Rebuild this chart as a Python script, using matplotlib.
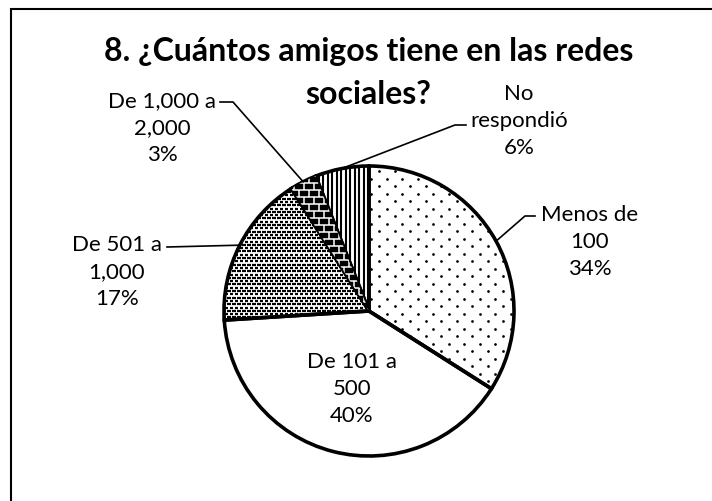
import numpy as np
import matplotlib.pyplot as plt
from matplotlib.patches import Rectangle
from matplotlib.collections import LineCollection

plt.rcParams['font.family'] = ['Lato', 'DejaVu Sans']

title_lines = ['8. ¿Cuántos amigos tiene en las redes', 'sociales?']
categories = ['Menos de\n100', 'De 101 a\n500', 'De 501 a\n1,000',
              'De 1,000 a\n2,000', 'No\nrespondió']
percents = [34, 40, 17, 3, 6]

faces = ['white', 'white', 'white', 'black', 'white']
# fill texture per slice (drawn below, clipped to each wedge)
textures = ['dots', None, 'dashes', 'bricks', 'vlines']

W, H = 712, 502
fig = plt.figure(figsize=(W / 100, H / 100), dpi=100)
ax = fig.add_axes([0, 0, 1, 1])

cx, cy, r = 369, H - 312, 145

wedges, _ = ax.pie(percents, startangle=90, counterclock=False,
                   center=(cx, cy), radius=r, colors=faces,
                   wedgeprops=dict(linewidth=0))


def staggered(dx, dy):
    pts = []
    for i, y in enumerate(np.arange(cy - r, cy + r, dy)):
        off = dx / 2 if i % 2 else 0
        for x in np.arange(cx - r + off, cx + r, dx):
            pts.append((x, y))
    return np.array(pts)


for w, tex in zip(wedges, textures):
    if tex == 'dots':
        p = staggered(15.5, 7.5)
        art = ax.scatter(p[:, 0], p[:, 1], s=3.8, color='black', linewidths=0)
    elif tex == 'dashes':
        p = staggered(5, 3.3)
        segs = [[(x - 1.7, y), (x + 1.7, y)] for x, y in p]
        art = LineCollection(segs, colors='black', linewidths=1.6,
                             capstyle='butt')
        ax.add_collection(art)
    elif tex == 'vlines':
        xs = np.arange(cx - r, cx + r, 4.5)
        segs = [[(x, cy - r), (x, cy + r)] for x in xs]
        art = LineCollection(segs, colors='black', linewidths=1.5)
        ax.add_collection(art)
    elif tex == 'bricks':
        segs = []
        for i, y in enumerate(np.arange(cy - r, cy + r, 7)):
            segs.append([(cx - r, y), (cx + r, y)])
            off = 5 if i % 2 else 0
            for x in np.arange(cx - r + off, cx + r, 10):
                segs.append([(x, y), (x, y + 7)])
        art = LineCollection(segs, colors='white', linewidths=1.1)
        ax.add_collection(art)
    else:
        continue
    art.set_clip_path(w)

# outlines on top of the textures
ax.pie(percents, startangle=90, counterclock=False, center=(cx, cy), radius=r,
       wedgeprops=dict(fill=False, linewidth=2.6, edgecolor='black'))

ax.set_xlim(0, W)
ax.set_ylim(0, H)
ax.set_aspect('equal')
ax.axis('off')

# chart frame
ax.add_patch(Rectangle((11, -20), W + 20, H - 10 + 20, fill=False,
                       linewidth=1.5, edgecolor='black'))

ax.text(369, H - 52, title_lines[0], ha='center', va='center',
        fontsize=23, fontweight='bold')
ax.text(368, H - 95, title_lines[1], ha='center', va='center',
        fontsize=23, fontweight='bold')

# label centre, then elbow and end of the leader line
label_pos = [(590, 242), (352, 389), (117, 272), (162, 128), (519, 121)]
leaders = [[(525, 217), (535, 217)], None, [(167, 248)],
           [(233, 103), (220, 103)], [(455, 126), (466, 126)]]

for w, cat, p, (lx, ly), lead in zip(wedges, categories, percents,
                                     label_pos, leaders):
    ax.text(lx, H - ly, f'{cat}\n{p}%', ha='center', va='center',
            fontsize=16, linespacing=1.42)
    if lead is None:
        continue
    mid = np.deg2rad((w.theta1 + w.theta2) / 2)
    xs = [cx + r * np.cos(mid)] + [x for x, _ in lead]
    ys = [cy + r * np.sin(mid)] + [H - y for _, y in lead]
    ax.plot(xs, ys, color='black', linewidth=1.2)

fig.savefig('out.png', dpi=100)
